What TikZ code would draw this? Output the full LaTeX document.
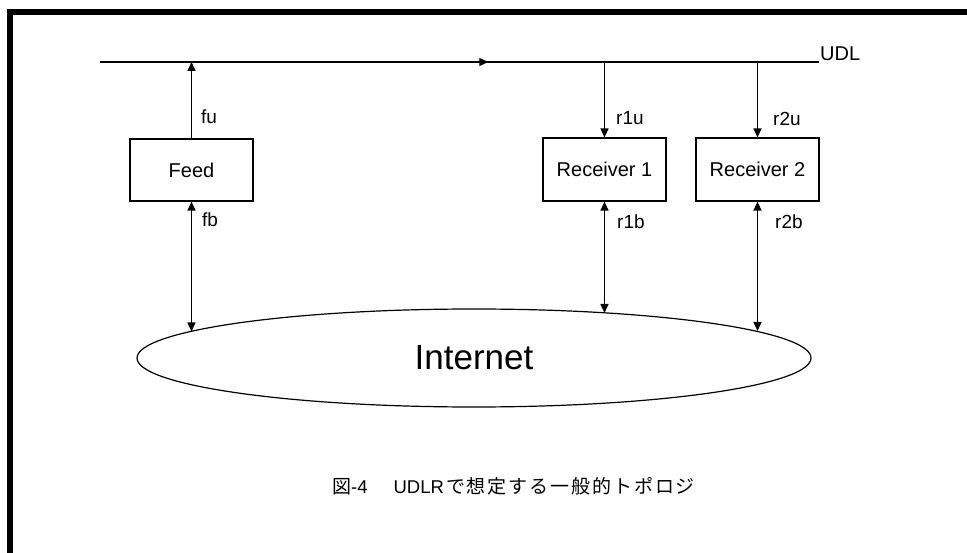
\documentclass[tikz,border=0pt]{standalone}
\usepackage{fontspec}
\setmainfont{Liberation Sans}
\newfontfamily\cjkfont{Noto Sans CJK JP}
\usetikzlibrary{arrows.meta,shapes.geometric,decorations.markings}

\begin{document}
\begin{tikzpicture}[x=1pt,y=-1pt,
  box/.style={draw, line width=1.2pt, minimum width=123pt, minimum height=62pt,
    inner sep=0pt, font=\fontsize{20}{24}\selectfont},
  link/.style={line width=1.3pt},
  uparrow/.style={link, -{Triangle[length=9pt,width=8pt]}},
  twoway/.style={link, {Triangle[length=9pt,width=8pt]}-{Triangle[length=9pt,width=8pt]}},
  lbl/.style={anchor=west, inner sep=0pt, font=\fontsize{19}{22}\selectfont}]

\useasboundingbox (0,0) rectangle (967,553);

% page frame (top and left rules)
\draw[line width=5.5pt] (7,12) -- (967,12);
\draw[line width=6pt] (10,9.5) -- (10,553);

% UDL broadcast line
\coordinate (udlstart) at (100,62);
\coordinate (udlend) at (819,62);
\node[anchor=base west, inner sep=0pt, font=\fontsize{20}{24}\selectfont]
  (udl) at ([xshift=1pt,yshift=1pt]udlend) {UDL};
\draw[line width=1.2pt, postaction={decorate},
  decoration={markings, mark=at position 0.54 with {\arrow{Triangle[length=9pt,width=8pt]}}}]
  (udlstart) -- (udlend);

% hosts
\node[box] (feed) at (191.5,170) {Feed};
\node[box, minimum height=63pt] (rx1) at (604.5,169.5) {Receiver 1};
\node[box, minimum height=63pt] (rx2) at (757.5,169.5) {Receiver 2};

% the Internet
\node[draw, ellipse, line width=1.2pt, minimum width=674pt, minimum height=98pt,
  inner sep=0pt, font=\fontsize{35}{40}\selectfont] (inet) at (474,358) {Internet};

% points where the bidirectional links meet the Internet
\coordinate (feedin) at (191.5,331.5);
\coordinate (rx1in) at (604.5,313);
\coordinate (rx2in) at (757.5,331);

% uplink / downlink on the UDL
\draw[uparrow] (feed.north) -- (feed.north |- udlstart);
\draw[uparrow] (rx1.north |- udlstart) -- (rx1.north);
\draw[uparrow] (rx2.north |- udlstart) -- (rx2.north);

% bidirectional links to the Internet
\draw[twoway] (feed.south) -- (feedin);
\draw[twoway] (rx1.south) -- (rx1in);
\draw[twoway] (rx2.south) -- (rx2in);

% link labels
\node[lbl] (fu) at (201,117) {fu};
\node[lbl] (fb) at (202,220) {fb};
\node[lbl] (r1u) at (616,118) {r1u};
\node[lbl] (r1b) at (617,222) {r1b};
\node[lbl] (r2u) at (773,119) {r2u};
\node[lbl] (r2b) at (775,222) {r2b};

% caption
\node[anchor=west, inner sep=0pt] (caption) at (332,486)
  {{\cjkfont\fontsize{19}{22}\selectfont 図}{\fontsize{18.5}{22}\selectfont -4}\hspace{26pt}{\fontsize{18.5}{22}\selectfont UDLR}\hspace{2pt}{\cjkfont\fontsize{19}{22}\selectfont\addfontfeature{LetterSpace=10}で想定する一般的トポロジ}};
\end{tikzpicture}
\end{document}
